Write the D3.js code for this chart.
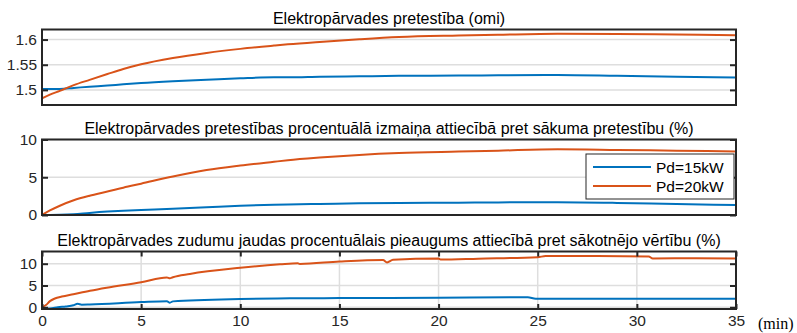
<!DOCTYPE html>
<html><head><meta charset="utf-8">
<script src="https://cdn.jsdelivr.net/npm/d3@7"></script>
<style>
body{margin:0;background:#fff;}
svg{display:block;font-family:"Liberation Sans",Arial,sans-serif;}
</style></head>
<body><svg id="c" width="797" height="333"></svg>
<script>
// ---------- data ----------
const seriesNames = ["Pd=15kW", "Pd=20kW"];
const titles = [
  "Elektropārvades pretestība (omi)",
  "Elektropārvades pretestības procentuālā izmaiņa attiecībā pret sākuma pretestību (%)",
  "Elektropārvades zudumu jaudas procentuālais pieaugums attiecībā pret sākotnējo vērtību (%)"
];
const xTicks = [0, 5, 10, 15, 20, 25, 30, 35];
const yTicks1 = [1.5, 1.55, 1.6];
const yTicks2 = [0, 5, 10];
const yTicks3 = [0, 5, 10];

// panel 1: resistance (ohm)
const t1 = [0,0.4,0.9,1.6,2.4,3.3,4.1,5,6.6,8.3,10,11.7,12.4,14,16,18,21,23,26,29,32,35];
const r15 = [1.502,1.5018,1.502,1.504,1.5063,1.5085,1.511,1.5135,1.517,1.520,1.523,1.525,1.525,1.526,1.527,1.528,1.5285,1.529,1.5297,1.528,1.526,1.5244];
const r20 = [1.483,1.4907,1.498,1.5095,1.520,1.5315,1.5415,1.551,1.5635,1.5735,1.5815,1.588,1.5905,1.5953,1.6006,1.605,1.608,1.6095,1.6114,1.611,1.610,1.6087];

// panel 2: resistance change (%)
const t2 = [0,0.4,0.9,1.6,2.4,3.3,4.1,5,6.6,8.3,10,11.7,12.4,14,16,18,21,23,26,29,32,35];
const p15 = [0,0,0.02,0.1,0.28,0.45,0.56,0.66,0.82,1.02,1.22,1.36,1.4,1.46,1.54,1.6,1.63,1.67,1.68,1.6,1.45,1.32];
const p20 = [0,0.6,1.23,1.95,2.55,3.1,3.62,4.15,5.1,5.95,6.55,7.05,7.25,7.6,7.95,8.2,8.4,8.52,8.7,8.62,8.52,8.42];

// panel 3: loss power increase (%)
const t3a = [0,0.4,0.8,1.2,1.58,1.8,2.0,2.42,5,6.3,6.45,6.6,10,12.5,15,20,24.5,24.9,25.6,30,35];
const l15 = [-0.2,-0.3,0,0.2,0.45,0.8,0.6,0.65,1.2,1.4,1.05,1.35,1.9,2.05,2.1,2.2,2.3,1.95,1.95,1.95,1.95];
const t3b = [0,0.2,0.4,0.65,1.0,1.58,2.42,3.26,5,6.3,6.45,6.6,7.46,10,12,12.9,13.0,15,17.2,17.4,17.7,20,20.1,22,25,25.4,28,30.6,30.8,33,35];
const l20 = [0,0.5,1.4,2.0,2.45,3.0,3.8,4.5,5.75,6.85,6.65,6.9,7.65,9.05,9.85,10.1,9.95,10.5,10.85,10.3,10.9,11.2,10.95,11.15,11.5,11.75,11.75,11.65,11.2,11.25,11.2];

// ---------- layout ----------
const colors = ["#0072BD", "#D95319"];
const axCol = "#262626", gridCol = "#dedede";
const X0 = 42, X1 = 736;
const panels = [
  {top:29.5, bot:105, dom:[1.47,1.62], ticks:yTicks1, xgrid:false, xlabels:false,
   series:[{t:t1,v:r15},{t:t1,v:r20}], title:titles[0], ty:24},
  {top:139.5, bot:215, dom:[0,10], ticks:yTicks2, xgrid:false, xlabels:false,
   series:[{t:t2,v:p15},{t:t2,v:p20}], title:titles[1], ty:134, legend:true},
  {top:251.5, bot:309, dom:[-0.4,12.8], ticks:yTicks3, xgrid:true, xlabels:true,
   series:[{t:t3a,v:l15},{t:t3b,v:l20}], title:titles[2], ty:246}
];

const svg = d3.select("#c");
const x = d3.scaleLinear().domain([0,35]).range([X0,X1]);

panels.forEach(p=>{
  const y = d3.scaleLinear().domain(p.dom).range([p.bot,p.top]);
  const g = svg.append("g");
  g.selectAll(".hg").data(p.ticks).join("line")
    .attr("x1",X0).attr("x2",X1).attr("y1",d=>y(d)).attr("y2",d=>y(d))
    .attr("stroke",gridCol).attr("stroke-width",1.5);
  if(p.xgrid){
    g.selectAll(".vg").data(xTicks).join("line")
      .attr("y1",p.top).attr("y2",p.bot).attr("x1",d=>x(d)).attr("x2",d=>x(d))
      .attr("stroke",gridCol).attr("stroke-width",1.5);
  }
  const clipId = "clip"+Math.round(p.top);
  svg.append("clipPath").attr("id",clipId).append("rect")
    .attr("x",X0).attr("y",p.top).attr("width",X1-X0).attr("height",p.bot-p.top);
  p.series.forEach((s,i)=>{
    const pts = s.t.map((t,j)=>[t,s.v[j]]);
    g.append("path").datum(pts)
      .attr("clip-path",`url(#${clipId})`)
      .attr("fill","none").attr("stroke",colors[i]).attr("stroke-width",2)
      .attr("stroke-linejoin","round")
      .attr("d",d3.line().x(d=>x(d[0])).y(d=>y(d[1])).curve(d3.curveMonotoneX));
  });
  g.append("g").attr("transform",`translate(${X0},0)`)
    .call(d3.axisLeft(y).tickValues(p.ticks).tickFormat(d=>String(d)).tickSizeInner(-6).tickSizeOuter(0).tickPadding(5));
  g.append("g").attr("transform",`translate(${X1},0)`)
    .call(d3.axisRight(y).tickValues(p.ticks).tickFormat("").tickSizeInner(-6).tickSizeOuter(0));
  if(p.xlabels){
    g.append("g").attr("transform",`translate(0,${p.bot})`)
      .call(d3.axisBottom(x).tickValues(xTicks).tickFormat(d=>String(d)).tickSizeInner(-5).tickSizeOuter(0).tickPadding(6));
    g.append("g").attr("transform",`translate(0,${p.top})`)
      .call(d3.axisTop(x).tickValues(xTicks).tickFormat("").tickSizeInner(-5).tickSizeOuter(0));
  }
  g.selectAll(".domain").remove();
  g.selectAll(".tick line").attr("stroke",axCol).attr("stroke-width",2);
  g.selectAll(".tick text").attr("fill",axCol).style("font-size","15.5px").style("font-family","'Liberation Sans',Arial,sans-serif");
  g.append("rect").attr("x",X0).attr("y",p.top).attr("width",X1-X0).attr("height",p.bot-p.top)
    .attr("fill","none").attr("stroke",axCol).attr("stroke-width",2);
  svg.append("text").attr("x",(X0+X1)/2).attr("y",p.ty).attr("text-anchor","middle")
    .attr("fill","#000").style("font-size","16px").text(p.title);
  if(p.legend){
    const lg = svg.append("g");
    lg.append("rect").attr("x",586).attr("y",154).attr("width",148).attr("height",45)
      .attr("fill","#fff").attr("stroke",axCol).attr("stroke-width",1);
    seriesNames.forEach((n,i)=>{
      const yy = 167 + i*19;
      lg.append("line").attr("x1",593).attr("x2",651).attr("y1",yy).attr("y2",yy)
        .attr("stroke",colors[i]).attr("stroke-width",2);
      lg.append("text").attr("x",656).attr("y",yy+5.5).attr("fill","#000")
        .style("font-size","15.5px").text(n);
    });
  }
});
svg.append("text").attr("x",758).attr("y",329).style("font-family","'Liberation Serif','Times New Roman',serif")
  .style("font-size","16px").attr("fill","#000").text("(min)");
</script></body></html>
